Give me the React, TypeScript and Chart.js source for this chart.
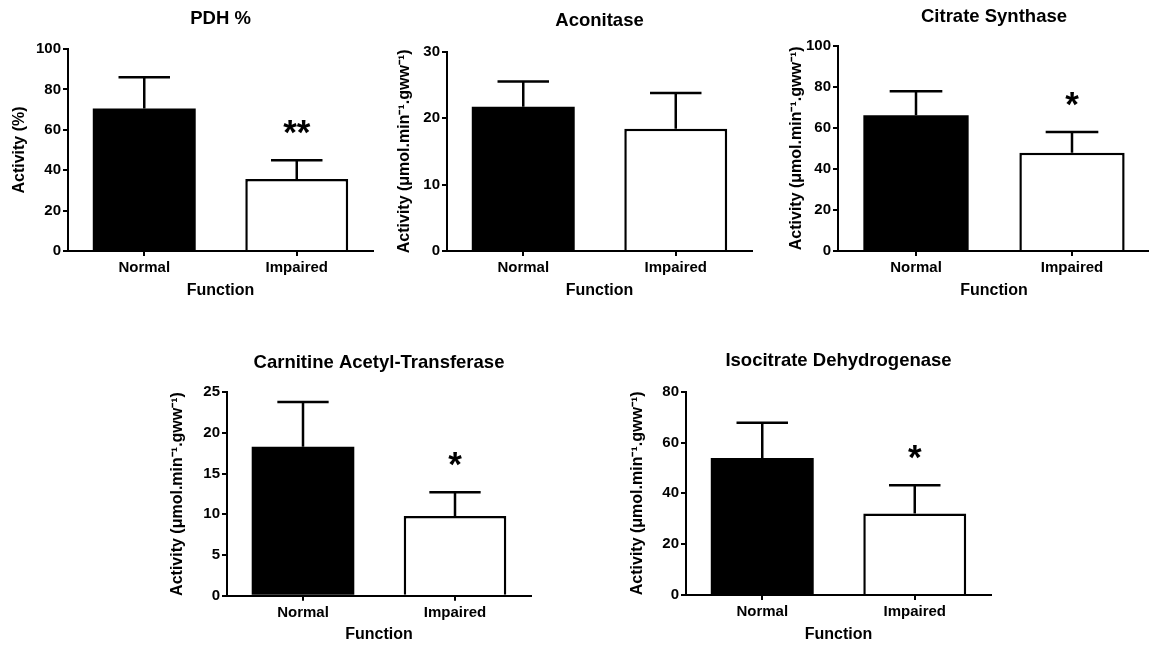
import React, { useEffect, useRef } from "react";
import { Chart, registerables } from "chart.js";

Chart.register(...registerables);

// ---------- data ----------
const categories = ["Normal", "Impaired"];
const xAxisTitle = "Function";
const chartTitles = [
  "PDH %",
  "Aconitase",
  "Citrate Synthase",
  "Carnitine Acetyl-Transferase",
  "Isocitrate Dehydrogenase",
];
const unitTitle = "Activity (\u03bcmol.min\u207b\u00b9.gww\u207b\u00b9)";
const yAxisTitles = ["Activity (%)", unitTitle, unitTitle, unitTitle, unitTitle];
const normalMeans = [70.6, 21.7, 66.1, 18.3, 53.9];
const normalErrors = [15.4, 3.8, 11.7, 5.5, 13.9];
const impairedMeans = [35.6, 18.4, 47.9, 9.8, 32.1];
const impairedErrors = [9.3, 5.4, 10.1, 2.9, 11.1];
const yMaxes = [100, 30, 100, 25, 80];
const yStepSizes = [20, 10, 20, 5, 20];
const significance = ["**", "", "*", "*", "*"];

// ---------- layout (page pixels) ----------
const PANELS = [
  { plot: [68, 49, 373, 251], titleY: 18.5, yTitleX: 20, rowTop: 0 },
  { plot: [447, 51.7, 752, 251], titleY: 21, yTitleX: 405, rowTop: 0 },
  { plot: [838, 45.7, 1150, 251], titleY: 17, yTitleX: 797, rowTop: 0 },
  { plot: [227, 392.3, 531, 595.7], titleY: 362.5, yTitleX: 178, rowTop: 330 },
  { plot: [686, 391.7, 991, 595], titleY: 361, yTitleX: 638, rowTop: 330 },
];

const FONT = "'Liberation Sans', Arial, Helvetica, sans-serif";
const TITLE_SIZE = 18.5;
const AXIS_TITLE_SIZE = 16;
const TICK_SIZE = 15;
const STAR_SIZE = 35;
const STAR_GAP = 36;

function geom(i: number) {
  const p = PANELS[i];
  const [pl, pt, pr, pb] = p.plot;
  const left = Math.floor(pl - 62);
  const top = p.rowTop;
  const right = Math.ceil(pr + 3);
  const bottom = Math.round(pb + 48.6);
  const lhT = TITLE_SIZE * 1.2;
  const lhA = AXIS_TITLE_SIZE * 1.2;
  const titlePadTop = p.titleY - top - lhT / 2;
  const titlePadBottom = pt - top - titlePadTop - lhT;
  return {
    left,
    top,
    w: right - left,
    h: bottom - top,
    wy: pl - left,
    hx: bottom - pb,
    padRight: right - pr,
    yTitlePad: p.yTitleX - left - lhA / 2,
    titlePadTop,
    titlePadBottom,
  };
}

const errorBarPlugin = {
  id: "errorBars",
  afterDatasetsDraw(chart: any, _args: any, opts: any) {
    const ctx = chart.ctx;
    const meta = chart.getDatasetMeta(0);
    const yScale = chart.scales.y;
    const values = chart.data.datasets[0].data as number[];
    ctx.save();
    ctx.strokeStyle = "#000";
    ctx.lineWidth = 2.5;
    ctx.lineCap = "butt";
    meta.data.forEach((bar: any, k: number) => {
      const v = values[k];
      const e = opts.errors[k];
      const yTop = yScale.getPixelForValue(v + e);
      const yBar = yScale.getPixelForValue(v);
      const half = bar.width / 4;
      ctx.beginPath();
      ctx.moveTo(bar.x, yBar);
      ctx.lineTo(bar.x, yTop);
      ctx.moveTo(bar.x - half, yTop);
      ctx.lineTo(bar.x + half, yTop);
      ctx.stroke();
      const s = opts.marks[k];
      if (s) {
        ctx.fillStyle = "#000";
        ctx.font = `bold ${STAR_SIZE}px ${FONT}`;
        ctx.textAlign = "center";
        ctx.textBaseline = "alphabetic";
        ctx.fillText(s, bar.x, yTop - STAR_GAP + STAR_SIZE * 0.56);
      }
    });
    ctx.restore();
  },
};

function Panel({ idx }: { idx: number }) {
  const ref = useRef<HTMLCanvasElement | null>(null);
  const g = geom(idx);
  useEffect(() => {
    if (!ref.current) return;
    const tickFont = { family: FONT, size: TICK_SIZE, weight: "bold" as const };
    const axisTitleFont = { family: FONT, size: AXIS_TITLE_SIZE, weight: "bold" as const };
    const gridOpts = {
      display: true,
      drawOnChartArea: false,
      drawTicks: true,
      tickLength: 5,
      color: "#000",
      lineWidth: 2,
    };
    const chart = new Chart(ref.current, {
      type: "bar",
      data: {
        labels: categories,
        datasets: [
          {
            data: [normalMeans[idx], impairedMeans[idx]],
            backgroundColor: ["#000000", "#ffffff"],
            borderColor: "#000000",
            borderWidth: [0, 2.5],
            borderSkipped: "start",
            categoryPercentage: 1,
            barPercentage: 0.675,
          },
        ],
      },
      options: {
        animation: false,
        responsive: false,
        devicePixelRatio: 1,
        events: [],
        layout: { padding: { left: 0, top: 0, bottom: 0, right: g.padRight } },
        plugins: {
          legend: { display: false },
          tooltip: { enabled: false },
          title: {
            display: true,
            text: chartTitles[idx],
            color: "#000",
            fullSize: false,
            font: { family: FONT, size: TITLE_SIZE, weight: "bold" },
            padding: { top: g.titlePadTop, bottom: g.titlePadBottom },
          },
          errorBars: {
            errors: [normalErrors[idx], impairedErrors[idx]],
            marks: ["", significance[idx]],
          },
        } as any,
        scales: {
          x: {
            type: "category",
            offset: true,
            z: 1,
            grid: { ...gridOpts, offset: false },
            border: { display: true, color: "#000", width: 2 },
            ticks: { color: "#000", font: tickFont, padding: 3, maxRotation: 0, autoSkip: false },
            title: {
              display: true,
              text: xAxisTitle,
              color: "#000",
              font: axisTitleFont,
              padding: { top: 0, bottom: 0 },
            },
            afterFit: (s: any) => {
              s.height = g.hx;
            },
          },
          y: {
            min: 0,
            max: yMaxes[idx],
            z: 1,
            grid: gridOpts,
            border: { display: true, color: "#000", width: 2 },
            ticks: { stepSize: yStepSizes[idx], color: "#000", font: tickFont, padding: 2 },
            title: {
              display: true,
              text: yAxisTitles[idx],
              color: "#000",
              font: axisTitleFont,
              padding: { top: g.yTitlePad, bottom: 0 },
            },
            afterFit: (s: any) => {
              s.width = g.wy;
            },
          },
        },
      } as any,
      plugins: [errorBarPlugin],
    });
    return () => chart.destroy();
  }, []);
  return (
    <canvas
      ref={ref}
      width={g.w}
      height={g.h}
      style={{ position: "absolute", left: g.left, top: g.top, width: g.w, height: g.h }}
    />
  );
}

export default function App() {
  return (
    <div
      style={{
        position: "fixed",
        left: 0,
        top: 0,
        width: 1149,
        height: 648,
        overflow: "hidden",
        background: "#fff",
      }}
    >
      {chartTitles.map((_, i) => (
        <Panel key={i} idx={i} />
      ))}
    </div>
  );
}
